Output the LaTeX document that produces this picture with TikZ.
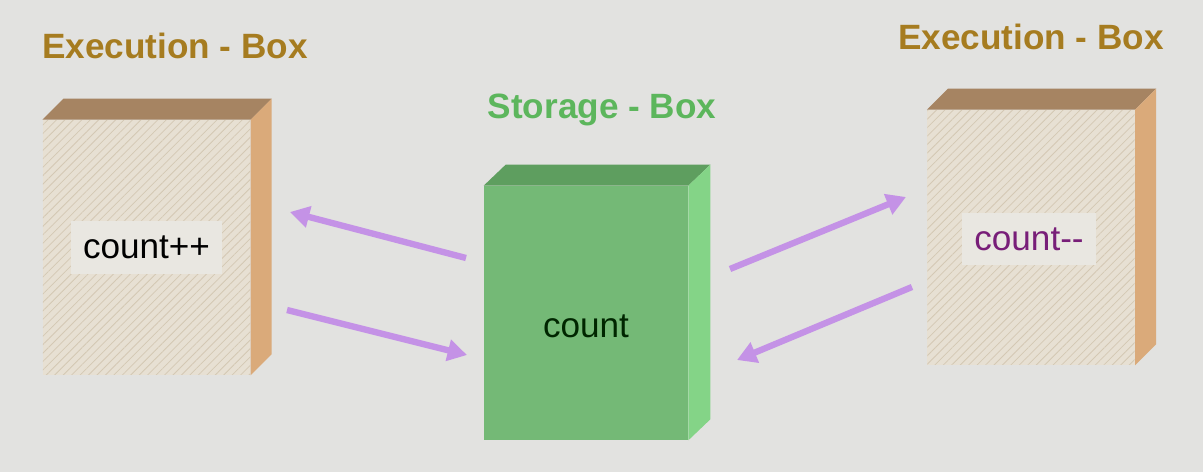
\documentclass[tikz,border=0pt]{standalone}
\usepackage{fontspec}
\setmainfont{Liberation Sans}
\usepackage{tikz}
\usetikzlibrary{positioning, arrows.meta, calc, patterns.meta}

\definecolor{bgc}{RGB}{226,226,224}
\definecolor{extitle}{RGB}{166,124,32}
\definecolor{sttitle}{RGB}{92,182,92}
\definecolor{exfront}{RGB}{231,224,211}
\definecolor{exhatch}{RGB}{212,200,180}
\definecolor{extop}{RGB}{166,132,98}
\definecolor{exside}{RGB}{218,170,122}
\definecolor{stfront}{RGB}{116,185,118}
\definecolor{sttop}{RGB}{94,158,95}
\definecolor{stside}{RGB}{132,212,135}
\definecolor{lblfill}{RGB}{233,231,225}
\definecolor{arrc}{RGB}{196,146,230}
\definecolor{decc}{RGB}{120,30,120}

\begin{document}
\begin{tikzpicture}[
  x=0.02cm, y=-0.02cm,
  font=\fontsize{20}{24}\selectfont,
  title/.style={font=\fontsize{20}{24}\selectfont\bfseries, inner sep=0pt},
  exbox/.style={rectangle, inner sep=0pt, minimum width=4.15cm, minimum height=5.1cm, fill=exfront,
    postaction={pattern={Lines[angle=45, distance=3.4pt, line width=0.45pt]}, pattern color=exhatch}},
  stbox/.style={rectangle, inner sep=0pt, minimum width=4.08cm, minimum height=5.08cm, fill=stfront},
  lbl/.style={rectangle, fill=lblfill, inner sep=0pt, minimum height=1.06cm},
  arr/.style={-{Triangle[length=11pt, width=12pt]}, line width=3.6pt, draw=arrc, arrc}
]
  \fill[bgc] (0,0) rectangle (1203,472);
  \useasboundingbox (0,0) rectangle (1203,472);

  % titles
  \node[title, text=extitle] (tl) at (175,46) {Execution - Box};
  \node[title, text=sttitle] (ts) at (602,110) {Storage - Box};
  \node[title, text=extitle] (tr) at (1031,37) {Execution - Box};

  % front faces
  \node[exbox] (exl) at (146.5,247.5) {};
  \node[stbox] (store) at (586,313) {};
  \node[exbox] (exr) at (1031,237.5) {};

  % top and side faces
  \fill[extop] (exl.north west) -- ++(21,-21) -- ($(exl.north east)+(21,-21)$) -- (exl.north east) -- cycle;
  \fill[exside] (exl.north east) -- ++(21,-21) -- ($(exl.south east)+(21,-21)$) -- (exl.south east) -- cycle;
  \fill[sttop] (store.north west) -- ++(22,-21) -- ($(store.north east)+(22,-21)$) -- (store.north east) -- cycle;
  \fill[stside] (store.north east) -- ++(22,-21) -- ($(store.south east)+(22,-21)$) -- (store.south east) -- cycle;
  \fill[extop] (exr.north west) -- ++(21,-21) -- ($(exr.north east)+(21,-21)$) -- (exr.north east) -- cycle;
  \fill[exside] (exr.north east) -- ++(21,-21) -- ($(exr.south east)+(21,-21)$) -- (exr.south east) -- cycle;

  % labels
  \node[lbl, minimum width=3.04cm] (inc) at (exl) {count++};
  \node[text=black!85!green] (cnt) at ([yshift=-7.4pt]store.center) {count};
  \node[lbl, minimum width=2.68cm, text=decc] (dec) at ([shift={(-2,1.5)}]exr.center) {count{-}{-}};

  % arrows
  \coordinate (s1) at (466,258);
  \coordinate (l1) at (290,212);
  \coordinate (l2) at (287,310);
  \coordinate (s2) at (467,355);
  \coordinate (s3) at (730,269);
  \coordinate (r1) at (906,197);
  \coordinate (r2) at (912,287);
  \coordinate (s4) at (737,360);
  \draw[arr] (s1) -- (l1);
  \draw[arr] (l2) -- (s2);
  \draw[arr] (s3) -- (r1);
  \draw[arr] (r2) -- (s4);
\end{tikzpicture}
\end{document}
